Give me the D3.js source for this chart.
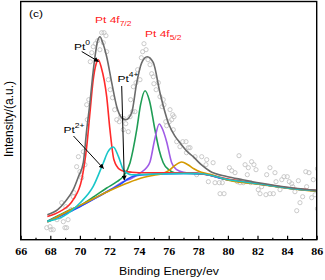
<!DOCTYPE html>
<html>
<head>
<meta charset="utf-8">
<script src="https://cdn.jsdelivr.net/npm/d3@7"></script>
<style>
  html, body { margin: 0; padding: 0; background: #fff; }
  svg { display: block; }
</style>
</head>
<body>
<svg id="chart" width="325" height="280"></svg>
<script>
// ---------------- DATA ----------------
// x tick labels (binding energy, eV)
const xMajorTicks = [66, 68, 70, 72, 74, 76, 78, 80, 82, 84, 86];
const xMinorTicks = [67, 69, 71, 73, 75, 77, 79, 81, 83, 85];

// Measured spectrum (open grey circles): [binding energy, intensity a.u.]
const rawData = [
  [67.76,12],[67.98,13],[68.05,10],[68.2,10],[68.45,20],[68.66,23],[68.77,37],[68.88,18],[68.99,12],[69.1,12],
  [69.05,33],[69.2,20],[69.4,30],[69.55,43],[69.6,47],[69.78,73],[69.9,83],[70.0,68],[70.12,62],[70.23,88],
  [70.34,75],[70.46,135],[70.5,120],[70.6,140],[70.7,178],[70.8,187],[70.9,193],[71.05,196],[71.2,199],[71.35,190],
  [71.47,207],[71.58,197],[71.63,207],[71.76,204],[71.81,188],[71.92,160],[72.05,150],[72.2,142],[72.35,130],[72.49,120],
  [72.66,118],[72.76,123],[72.93,110],[72.98,121],[73.1,116],[73.27,108],[73.39,123],[73.43,140],[73.55,128],[73.61,153],
  [73.72,128],[73.79,157],[73.9,170],[74.06,160],[74.15,182],[74.24,188],[74.33,196],[74.47,190],[74.6,180],[74.74,175],
  [74.85,166],[74.96,163],[75.0,156],[75.15,150],[75.3,157],[75.41,143],[75.55,133],[75.63,140],[75.68,135],[75.8,118],
  [75.86,114],[76.04,118],[76.09,130],[76.2,120],[76.27,125],[76.36,123],[76.31,110],[76.54,98],[76.76,93],[76.95,98],
  [77.17,98],[77.2,87],[77.33,92],[77.44,92],[77.78,83],[77.89,65],[78.23,83],[78.52,75],[78.57,80],[78.68,58],
  [79.0,77],[79.13,57],[79.42,57],[79.47,46],[79.62,57],[79.74,46],[80.1,72],[80.26,69],[80.48,67],[80.64,58],
  [80.75,84],[80.82,57],[81.04,57],[81.16,75],[81.31,65],[81.38,72],[81.54,57],[81.6,78],[81.76,75],[81.9,70],
  [82.05,50],[82.17,46],[82.28,53],[82.57,45],[82.62,65],[82.84,72],[82.84,46],[83.07,46],[83.18,67],[83.25,58],
  [83.52,50],[83.64,60],[83.79,63],[84.01,63],[84.15,58],[84.31,56],[84.38,53],[84.53,48],[84.65,29],[84.76,59],
  [84.87,37],[85.05,43],[85.26,68],[85.32,53],[85.48,67],[85.66,42],[85.77,60],[85.89,45],[86.05,71],[86.05,31]
];

// Fitted envelope (grey)
const envelope = [
  [67.8,25],[68.5,30],[69.0,38],[69.55,50],[69.9,63],[70.23,77],[70.46,110],[70.68,137],[70.85,162],[71.02,183],
  [71.2,199],[71.36,203],[71.52,198],[71.81,183],[72.15,157],[72.49,133],[72.82,122],[73.11,120],[73.5,127],[73.84,157],
  [74.18,177],[74.55,183],[74.96,177],[75.41,147],[75.97,117],[76.4,104],[76.76,97],[77.2,89],[77.66,83],[78.2,75],
  [78.79,68.5],[79.92,63.3],[81.0,60],[82.17,56.7],[83.3,54],[84.42,51.7],[86.0,49.3]
];
// Pt0 4f7/2 (red)
const pt0_72 = [
  [67.8,23.3],[68.66,28.3],[69.55,40],[70.12,60],[70.46,93],[70.68,127],[70.9,160],[71.1,176],[71.24,180],[71.45,172],
  [71.81,143],[72.03,110],[72.3,80],[72.71,70],[73.05,68.3],[73.5,67.5],[74.5,67],[75.5,67],[76.5,67],[77.5,66.8],
  [78.2,66],[79.9,61],[82.2,56],[84.4,51.3],[86.0,49.2]
];
// Pt0 4f5/2 (green)
const pt0_52 = [
  [67.8,18.5],[69.0,27.5],[70.23,36],[71.0,43.5],[71.81,51.7],[72.5,58],[72.93,63.3],[73.39,77],[73.84,110],[74.1,135],
  [74.4,149],[74.7,139],[75.07,110],[75.35,90],[75.63,77],[76.0,70],[76.4,67],[77.0,66.5],[78.2,66],[79.9,60.3],
  [82.2,55.5],[84.4,51],[86.0,49]
];
// Pt2+ 4f7/2 (cyan)
const pt2_72 = [
  [67.8,18.3],[68.88,23.3],[70.0,36.7],[70.9,53.3],[71.58,76.7],[71.9,88],[72.26,92.7],[72.6,83.3],[72.93,70],[73.2,66.5],
  [73.5,65],[74.5,65.3],[76.0,66],[77.5,66.3],[78.2,66],[79.9,60.5],[82.2,55.7],[84.4,51],[86.0,49]
];
// Pt2+ 4f5/2 (purple)
const pt2_52 = [
  [67.8,18],[70.0,33.5],[72.0,49.5],[72.93,58],[73.5,61.5],[74.06,66.7],[74.5,72],[74.74,78],[75.05,100],[75.36,115.7],
  [75.6,110],[75.86,98],[76.2,77],[76.54,70],[77.0,67.5],[77.6,66.5],[78.2,66],[79.9,60.2],[82.2,55.5],[84.4,51],[86.0,48.8]
];
// Pt4+ 4f7/2 (blue)
const pt4_72 = [
  [67.8,18],[70.0,33],[72.0,49.5],[72.7,55],[73.2,60.5],[73.6,63.5],[74.0,64.5],[74.5,65],[75.5,65.8],[77.0,66.3],
  [78.2,66],[79.9,60.2],[82.2,55.5],[84.4,51],[86.0,48.8]
];
// Pt4+ 4f5/2 with background (orange)
const pt4_52 = [
  [67.8,17.7],[68.5,23],[69.0,27],[70.0,34.3],[71.0,41.7],[72.0,49],[73.0,55.5],[74.0,61],[75.0,64.5],[75.6,66.3],
  [76.0,69],[76.4,74],[76.88,77.7],[77.3,75],[77.7,71],[78.2,67.5],[78.8,65.5],[79.9,60],[82.2,55.3],[84.4,50.8],[86.0,48.5]
];

const seriesColors = {
  pt0_72: "#ff2a2a", pt0_52: "#1f9d55", pt2_52: "#a05ce6", pt4_72: "#2050ff",
  pt4_52: "#d49a00", pt2_72: "#19c6c9", envelope: "#6b6b6b"
};

// ---------------- DRAWING ----------------
const svg = d3.select("#chart");
const L = 20.7, R = 316.7, T = 1.5, B = 239.7;
const x = d3.scaleLinear().domain([66, 86]).range([L, R]);
const y = d3.scaleLinear().domain([0, 238.2]).range([B, T]);

svg.append("defs").append("clipPath").attr("id", "plotclip")
  .append("rect").attr("x", L).attr("y", T).attr("width", R - L).attr("height", B - T);

const defs = svg.select("defs");
defs.append("marker").attr("id", "arr").attr("viewBox", "0 0 10 10")
  .attr("refX", 9).attr("refY", 5).attr("markerWidth", 5).attr("markerHeight", 5)
  .attr("markerUnits", "userSpaceOnUse").attr("orient", "auto")
  .append("path").attr("d", "M0,0 L10,5 L0,10 z").attr("fill", "#000");

const plot = svg.append("g").attr("clip-path", "url(#plotclip)");

// scatter
plot.append("g").selectAll("circle").data(rawData).join("circle")
  .attr("cx", d => x(d[0])).attr("cy", d => y(d[1])).attr("r", 2.1)
  .attr("fill", "none").attr("stroke", "#c4c4c4").attr("stroke-width", 0.9);

const line = d3.line().x(d => x(d[0])).y(d => y(d[1])).curve(d3.curveMonotoneX);
const order = [
  ["pt0_52", pt0_52], ["pt2_52", pt2_52], ["pt4_72", pt4_72], ["pt4_52", pt4_52],
  ["pt0_72", pt0_72], ["pt2_72", pt2_72], ["envelope", envelope]
];
order.forEach(([k, data]) => {
  plot.append("path").datum(data).attr("d", line)
    .attr("fill", "none").attr("stroke", seriesColors[k]).attr("stroke-width", 1.6)
    .attr("stroke-linejoin", "round");
});

// axes
const xAxis = d3.axisBottom(x).tickValues(xMajorTicks).tickSize(-4).tickPadding(7).tickFormat(d3.format("d"));
const gx = svg.append("g").attr("transform", `translate(0,${B})`).call(xAxis);
gx.select(".domain").remove();
gx.selectAll(".tick line").attr("stroke", "#000").attr("stroke-width", 1.2);
gx.selectAll(".tick text")
  .attr("font-family", "'Liberation Serif', 'Times New Roman', serif")
  .attr("font-weight", "bold").attr("font-size", 12).attr("fill", "#000")
  .attr("dy", null)
  .attr("transform", "translate(0,15.3) scale(1,0.83)").attr("y", 0);

const xMinor = d3.axisBottom(x).tickValues(xMinorTicks).tickSize(-2).tickFormat("");
const gm = svg.append("g").attr("transform", `translate(0,${B})`).call(xMinor);
gm.select(".domain").remove();
gm.selectAll(".tick line").attr("stroke", "#000").attr("stroke-width", 1.2);

// frame
svg.append("rect").attr("x", L).attr("y", T).attr("width", R - L).attr("height", B - T)
  .attr("fill", "none").attr("stroke", "#000").attr("stroke-width", 1.4);

// texts
const FONT = "'Liberation Sans', Arial, sans-serif";
function label(px, py, parts, color) {
  const t = svg.append("text").attr("transform", `translate(${px},${py}) scale(1,0.83)`)
    .attr("font-family", FONT).attr("fill", color || "#000");
  parts.forEach(p => {
    const s = t.append("tspan").text(p.t).attr("font-size", p.fs || 12);
    if (p.dy) s.attr("dy", p.dy);
  });
  return t;
}
label(29, 16.5, [{t: "(c)"}]);
label(95, 23.3, [{t: "Pt 4f"}, {t: "7/2", fs: 8.5, dy: 3.5}], "#ff2020");
label(145, 37.3, [{t: "Pt 4f"}, {t: "5/2", fs: 8.5, dy: 3.5}], "#ff2020");
label(74, 49.5, [{t: "Pt"}, {t: "0", fs: 8.5, dy: -6}]);
label(117.5, 81.5, [{t: "Pt"}, {t: "4+", fs: 8.5, dy: -6}]);
label(63.5, 133, [{t: "Pt"}, {t: "2+", fs: 8.5, dy: -6}]);

// annotation arrows
const arrows = [[81.7, 51.5, 98.5, 61.5], [121.7, 86, 124.3, 180], [73.5, 136, 103.5, 168.5]];
arrows.forEach(a => {
  svg.append("line").attr("x1", a[0]).attr("y1", a[1]).attr("x2", a[2]).attr("y2", a[3])
    .attr("stroke", "#000").attr("stroke-width", 1).attr("marker-end", "url(#arr)");
});

// axis titles
svg.append("text").attr("transform", "translate(169,275) scale(1,0.83)")
  .attr("text-anchor", "middle").attr("font-family", FONT).attr("font-size", 12.3)
  .text("Binding Energy/ev");
svg.append("text").attr("transform", "translate(12.5,119) rotate(-90)")
  .attr("text-anchor", "middle").attr("font-family", FONT).attr("font-size", 12)
  .text("Intensity/(a.u.)");
</script>
</body>
</html>
